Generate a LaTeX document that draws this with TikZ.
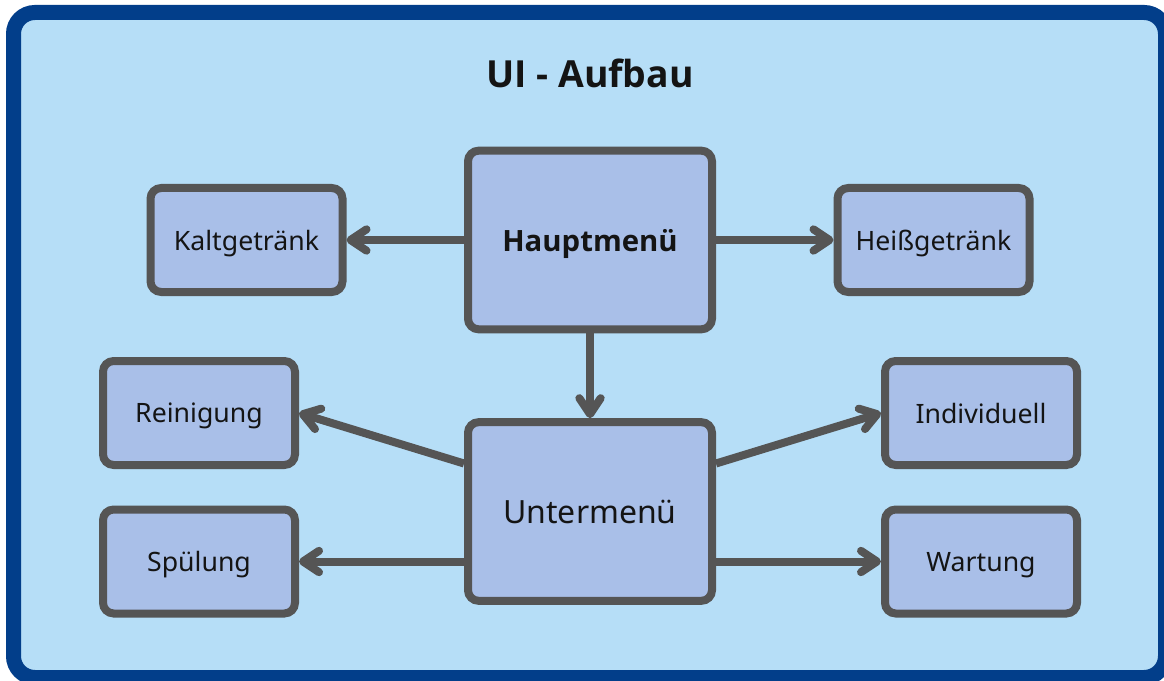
\documentclass[tikz,border=0pt]{standalone}
\usepackage{fontspec}
\setmainfont{Noto Sans}
\newfontfamily\headfont{Open Sans}
\usetikzlibrary{arrows.meta}
\definecolor{frameblue}{HTML}{023E8A}
\definecolor{bgblue}{HTML}{B6DEF7}
\definecolor{boxblue}{HTML}{A9BFE8}
\definecolor{edgegrey}{HTML}{555555}
\definecolor{inkblack}{HTML}{141414}

\begin{document}
\begin{tikzpicture}[x=0.75pt, y=-0.75pt,
    menu/.style={draw=edgegrey, fill=boxblue, line width=6pt, rounded corners=8pt,
      minimum width=144pt, minimum height=78pt, text=inkblack, text depth=0pt,
      font=\fontsize{20}{24}\selectfont},
    mainmenu/.style={menu, minimum width=183pt, minimum height=134pt},
    conn/.style={draw=edgegrey, line width=6pt,
      -{Straight Barb[length=12pt, width=16pt, round]}}]
    \useasboundingbox (0,0) rectangle (1164,681);
    % frame
    \draw[frameblue, fill=bgblue, line width=11.25pt, rounded corners=16pt]
      (13.5,12.5) rectangle (1165.5,677.5);
    \node[text=inkblack, text depth=0pt, font=\headfont\bfseries\fontsize{28}{32}\selectfont] (title) at (590,73) {UI - Aufbau};
    % menus
    \node[mainmenu, font=\headfont\bfseries\fontsize{22}{26}\selectfont] (haupt) at (590,240) {Hauptmenü};
    \node[mainmenu, font=\fontsize{24}{28}\selectfont] (unter) at (590,511.5) {Untermenü};
    \foreach \name/\x/\y/\txt in {kalt/246.5/240/Kaltgetränk, heiss/933.5/240/Heißgetränk,
        rein/199/413/Reinigung, spuel/199/561.5/Spülung,
        indiv/981/413/Individuell, wart/981/561.5/Wartung} {
      \node[menu] (\name) at (\x,\y) {\txt};
    }
    \draw[conn] (haupt.west) -- (kalt.east);
    \draw[conn] (haupt.east) -- (heiss.west);
    \draw[conn] (haupt.south) -- (unter.north);
    \draw[conn] ([yshift=36pt]unter.west) -- (rein.east);
    \draw[conn] ([yshift=-37.5pt]unter.west) -- (spuel.east);
    \draw[conn] ([yshift=36pt]unter.east) -- (indiv.west);
    \draw[conn] ([yshift=-37.5pt]unter.east) -- (wart.west);
  \end{tikzpicture}
\end{document}
